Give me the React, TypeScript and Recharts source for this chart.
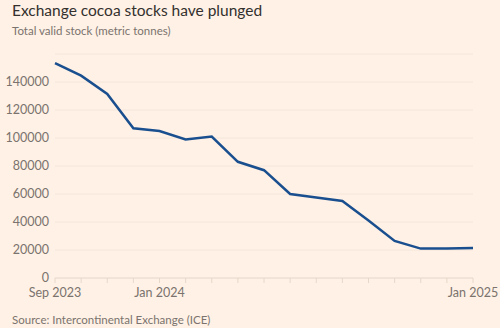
import { LineChart, Line, XAxis, YAxis, CartesianGrid } from 'recharts';

// monthly valid stock, Sep 2023 – Jan 2025
const months = [
  'Sep 2023', 'Oct 2023', 'Nov 2023', 'Dec 2023', 'Jan 2024', 'Feb 2024', 'Mar 2024', 'Apr 2024',
  'May 2024', 'Jun 2024', 'Jul 2024', 'Aug 2024', 'Sep 2024', 'Oct 2024', 'Nov 2024', 'Dec 2024', 'Jan 2025',
];
const stocks = [
  153500, 144500, 131500, 107000, 105000, 99000, 101000, 83000,
  77000, 60000, 57500, 55000, 41000, 26500, 21000, 21000, 21500,
];
const labelledMonths = ['Sep 2023', 'Jan 2024', 'Jan 2025'];
const yTicks = [0, 20000, 40000, 60000, 80000, 100000, 120000, 140000];

const data = months.map((month, i) => ({ month, stock: stocks[i] }));

const FONT = 'Lato, "Open Sans", sans-serif';
const BG = '#fff1e5';
const GREY = '#7a736e';

export default function App() {
  return (
    <div
      style={{
        position: 'absolute',
        left: 0,
        top: 0,
        width: 500,
        height: 328,
        background: BG,
        fontFamily: FONT,
        overflow: 'hidden',
      }}
    >
      <div style={{ position: 'absolute', left: 12, top: 0, fontSize: 15.5, color: '#33302e', lineHeight: '20px' }}>
        Exchange cocoa stocks have plunged
      </div>
      <div style={{ position: 'absolute', left: 12, top: 23, fontSize: 11.5, color: GREY, lineHeight: '16px' }}>
        Total valid stock (metric tonnes)
      </div>

      <div style={{ position: 'absolute', left: 0, top: 0 }}>
        <LineChart width={500} height={328} data={data} margin={{ top: 54, right: 27, left: 0, bottom: 20 }}>
          <CartesianGrid vertical={false} stroke="#f3e6da" />
          <XAxis
            dataKey="month"
            interval={0}
            height={30}
            tickSize={5}
            tickMargin={5}
            axisLine={{ stroke: '#eadccf' }}
            tickLine={{ stroke: '#e6d8cb' }}
            tick={{ fill: GREY, fontSize: 12.5, fontFamily: FONT }}
            tickFormatter={(v: string) => (labelledMonths.includes(v) ? v : '')}
          />
          <YAxis
            width={55}
            domain={[0, 160000]}
            ticks={yTicks}
            axisLine={false}
            tickLine={false}
            tickSize={0}
            tickMargin={6}
            tick={{ fill: GREY, fontSize: 12.5, fontFamily: FONT }}
          />
          <Line
            type="linear"
            dataKey="stock"
            stroke="#1a4f8f"
            strokeWidth={2.5}
            dot={false}
            isAnimationActive={false}
          />
        </LineChart>
      </div>

      <div style={{ position: 'absolute', left: 12, top: 313, fontSize: 11.5, color: GREY, lineHeight: '14px' }}>
        Source: Intercontinental Exchange (ICE)
      </div>
    </div>
  );
}
